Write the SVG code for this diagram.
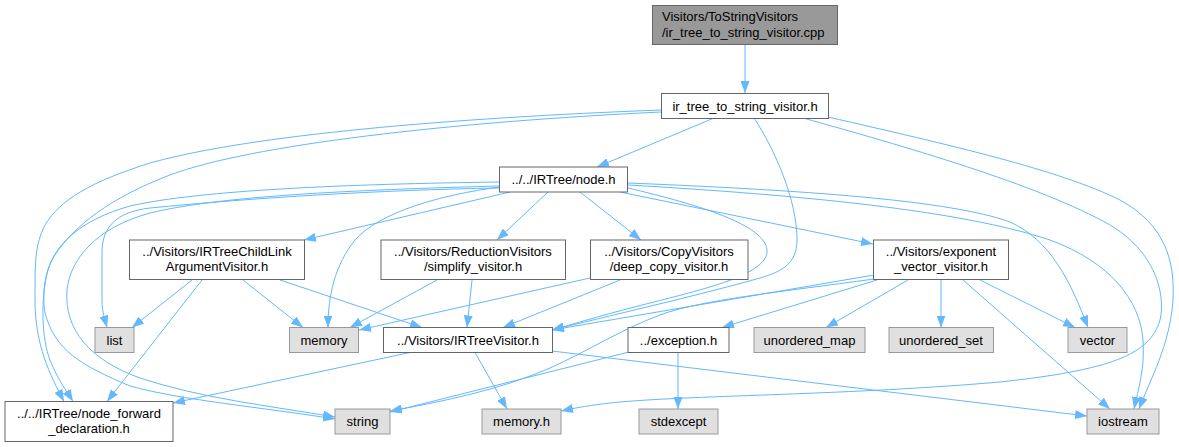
<svg xmlns="http://www.w3.org/2000/svg" width="1179" height="447" viewBox="0 0 1179 447">
<style>
.n rect{fill:#ffffff;stroke:#666666;stroke-width:1}
.g rect{fill:#e0e0e0;stroke:#999999;stroke-width:1}
.r rect{fill:#999999;stroke:#666666;stroke-width:1}
text{font-family:"Liberation Sans",Arial,Helvetica,sans-serif;font-size:13px;fill:#000000;text-anchor:middle}
.l text{text-anchor:start}
#edges path{fill:none;stroke:#63b8ff;stroke-width:1;marker-end:url(#ah)}
</style>
<defs>
<marker id="ah" markerUnits="userSpaceOnUse" markerWidth="12" markerHeight="9" refX="12" refY="4.5" orient="auto">
<polygon points="0,0 12,4.5 0,9" fill="#63b8ff"/>
</marker>
</defs>
<rect x="0" y="0" width="1179" height="447" fill="#ffffff"/>
<g id="edges">
<path d="M745,45 L745,93"/>
<path d="M714,118 L597,167"/>
<path d="M754,118 C775,150 797,200 797,240 C797,265 780,272 760,278 C700,295 600,318 552,330"/>
<path d="M661,110 C450,118 250,135 150,163 C90,182 60,200 45,225 C35,245 35,260 35,300 C35,345 50,375 64,401.5"/>
<path d="M661,112 C450,122 250,145 170,175 C110,198 75,225 55,255 C42,275 43,300 45,313 C55,350 80,365 130,386 C180,400 260,407 335,419"/>
<path d="M803,118 C900,145 1040,185 1110,225 C1160,255 1165,300 1160,320 C1150,355 1110,370 1000,382 C850,395 700,395 620,402 C590,405 575,408 561,411"/>
<path d="M828,117 C950,145 1060,170 1120,200 C1165,225 1175,260 1173,300 C1170,345 1150,380 1139,409"/>
<path d="M510,192 L304,240"/>
<path d="M548,192 L497,240"/>
<path d="M580,192 L641,240"/>
<path d="M620,192 L873,244"/>
<path d="M628,188 C700,205 765,225 767,250 C769,275 700,290 650,303 C610,313 580,322 552,330"/>
<path d="M499,182 C350,184 200,190 130,206 C80,220 55,245 48,270 C40,300 42,340 50,360 C58,380 66,390 73,401.5"/>
<path d="M499,186 C350,190 220,196 150,213 C95,228 70,260 67,290 C64,330 90,360 140,378 C200,398 270,406 335,417"/>
<path d="M499,188 C380,190 250,198 150,208 C115,212 103,228 102,250 L102,300 C102,312 105,320 107,327.5"/>
<path d="M500,187 C440,195 380,212 355,240 C335,265 328,295 328,327.5"/>
<path d="M628,183 C800,190 950,200 1010,222 C1050,240 1070,280 1088,327.5"/>
<path d="M628,185 C800,195 960,210 1050,240 C1110,262 1140,300 1143,340 C1145,370 1138,390 1134,409"/>
<path d="M192,280 L132,327.5"/>
<path d="M202,280 L107,401.5"/>
<path d="M243,280 L303,327.5"/>
<path d="M280,280 L422,327.5"/>
<path d="M437,280 L350,327.5"/>
<path d="M472,280 L467,327.5"/>
<path d="M590,278 L359,330"/>
<path d="M620,280 L503,327.5"/>
<path d="M874,275 L552,330"/>
<path d="M874,279 C780,292 700,300 660,315 C620,330 590,350 550,368 C500,390 440,402 390,411"/>
<path d="M877,280 L722,327.5"/>
<path d="M908,280 L826,327.5"/>
<path d="M941,280 L941,327.5"/>
<path d="M980,280 L1075,327.5"/>
<path d="M963,280 L1110,409"/>
<path d="M475,352.5 L507,409"/>
<path d="M410,352.5 L173,403"/>
<path d="M552,351 L1087,416"/>
<path d="M678,352.5 L678,409"/>
<path d="M629,352 L390,412"/>
</g>
<g id="root" class="r l"><rect x="652.5" y="5.5" width="185" height="39"/><text x="662" y="20.5">Visitors/ToStringVisitors</text><text x="662" y="36.5">/ir_tree_to_string_visitor.cpp</text></g>
<g id="ir_tree_to_string_visitor_h" class="n"><rect x="661.5" y="93.5" width="167" height="25"/><text x="745" y="110.5">ir_tree_to_string_visitor.h</text></g>
<g id="node_h" class="n"><rect x="499.5" y="167" width="128" height="25"/><text x="563.5" y="184">../../IRTree/node.h</text></g>
<g id="childlink" class="n"><rect x="129.5" y="240" width="175" height="39.5"/><text x="217" y="256.3">../Visitors/IRTreeChildLink</text><text x="217" y="271.3">ArgumentVisitor.h</text></g>
<g id="simplify" class="n"><rect x="381" y="240" width="184.5" height="39.5"/><text x="473" y="256.3">../Visitors/ReductionVisitors</text><text x="473" y="271.3">/simplify_visitor.h</text></g>
<g id="deep_copy" class="n"><rect x="590.5" y="240" width="157.5" height="39.5"/><text x="669" y="256.3">../Visitors/CopyVisitors</text><text x="669" y="271.3">/deep_copy_visitor.h</text></g>
<g id="exponent" class="n"><rect x="873.5" y="240" width="135" height="39.5"/><text x="941" y="256.3">../Visitors/exponent</text><text x="941" y="271.3">_vector_visitor.h</text></g>
<g id="list" class="g"><rect x="95" y="327.5" width="39" height="25"/><text x="114.5" y="344.5">list</text></g>
<g id="memory" class="g"><rect x="289.5" y="327.5" width="69" height="25"/><text x="324" y="344.5">memory</text></g>
<g id="irtreevisitor" class="n"><rect x="383.5" y="327.5" width="169" height="25"/><text x="468" y="344.5">../Visitors/IRTreeVisitor.h</text></g>
<g id="exception" class="n"><rect x="628" y="327.5" width="101" height="25"/><text x="678.5" y="344.5">../exception.h</text></g>
<g id="unordered_map" class="g"><rect x="754" y="327.5" width="111" height="25"/><text x="809.5" y="344.5">unordered_map</text></g>
<g id="unordered_set" class="g"><rect x="889" y="327.5" width="104.5" height="25"/><text x="941" y="344.5">unordered_set</text></g>
<g id="vector" class="g"><rect x="1068" y="327.5" width="59" height="25"/><text x="1097.5" y="344.5">vector</text></g>
<g id="node_forward" class="n"><rect x="5" y="401.5" width="168" height="40"/><text x="89" y="417.8">../../IRTree/node_forward</text><text x="89" y="432.8">_declaration.h</text></g>
<g id="string" class="g"><rect x="335" y="409" width="55" height="25"/><text x="362.5" y="426">string</text></g>
<g id="memory_h" class="g"><rect x="482" y="409" width="79" height="25"/><text x="521.5" y="426">memory.h</text></g>
<g id="stdexcept" class="g"><rect x="639" y="409" width="79" height="25"/><text x="678.5" y="426">stdexcept</text></g>
<g id="iostream" class="g"><rect x="1087" y="409" width="72" height="25"/><text x="1123" y="426">iostream</text></g>
</svg>
